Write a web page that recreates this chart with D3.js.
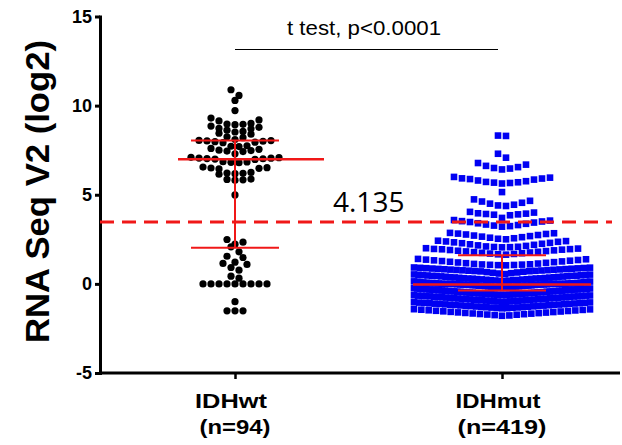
<!DOCTYPE html>
<html>
<head>
<meta charset="utf-8">
<script src="https://cdn.jsdelivr.net/npm/d3@7"></script>
<style>
  body { margin: 0; background: #fff; }
  svg  { display: block; }
</style>
</head>
<body>
<svg id="chart" width="622" height="445"></svg>
<script>
// DATA

const categories = ["IDHwt", "IDHmut"];
const nLabels    = ["(n=94)", "(n=419)"];
const yTicks     = [-5, 0, 5, 10, 15];

const idhwt = [
  10.89, 10.57, 10.29, 9.72,
  9.30, 9.20, 9.14, 9.00, 8.97, 8.95, 8.93,
  8.85, 8.78, 8.72, 8.70, 8.62, 8.55, 8.52, 8.45, 8.40,
  8.25, 8.20, 8.10, 8.05, 8.04, 8.02, 8.00, 7.98, 7.95, 7.92,
  7.75, 7.72, 7.70, 7.60, 7.55, 7.50, 7.48, 7.45, 7.42,
  7.30, 7.10, 7.08, 7.06, 7.05, 7.03, 7.02, 7.00, 6.98,
  6.85, 6.84, 6.82, 6.80,
  6.55, 6.52, 6.50, 6.48, 6.45,
  6.25, 6.22, 6.20, 6.18, 6.15,
  5.88, 5.86, 5.84, 5.82,
  4.99, 2.49, 2.34, 2.23, 2.08, 1.80, 1.55, 1.48, 1.22, 1.15, 1.09, 0.92, 0.77, 0.43, 0.32,
  0, 0, 0, 0, 0, 0, 0, 0, 0,
  -1.00, -1.51, -1.51, -1.51
];

const idhmut = [
  8.32, 8.30,
  7.30, 7.08,
  6.78, 6.69, 6.62, 6.55, 6.50, 6.47, 6.42,
  6.00, 5.96, 5.92, 5.91, 5.88, 5.85, 5.80, 5.76, 5.72, 5.70, 5.68, 5.66, 5.63,
  5.15,
  4.74, 4.66, 4.62, 4.55, 4.50, 4.44, 4.40, 4.37,
  4.04, 4.00, 3.96, 3.94, 3.92, 3.90, 3.88, 3.85, 3.70,
  3.58, 3.55, 3.52, 3.50, 3.47, 3.44, 3.40, 3.37, 3.33, 3.30, 3.27, 3.24, 3.21,
  2.86, 2.84, 2.82, 2.80, 2.77, 2.74, 2.71, 2.68, 2.65, 2.62, 2.59, 2.56, 2.53, 2.50,
  2.42, 2.40, 2.38, 2.36, 2.33, 2.30, 2.28, 2.25, 2.22, 2.19, 2.16, 2.13, 2.10, 2.08, 2.07, 2.06, 2.05,
  2.00, 1.98, 1.96, 1.95, 1.94, 1.92, 1.90, 1.88, 1.86, 1.84, 1.82, 1.80, 1.78, 1.76, 1.74, 1.72, 1.70, 1.68, 1.66, 1.64,
  1.40, 1.38, 1.36, 1.34, 1.32, 1.30, 1.28, 1.26, 1.24, 1.22, 1.20, 1.18, 1.16, 1.14, 1.12, 1.10, 1.09, 1.08, 1.07, 1.06, 1.05, 1.04,
  0.92, 0.91, 0.90, 0.89, 0.88, 0.87, 0.86, 0.85, 0.84, 0.83, 0.82, 0.81, 0.80, 0.79, 0.78, 0.77, 0.76, 0.75, 0.74, 0.73,
  0.72, 0.71, 0.70, 0.68, 0.66, 0.64, 0.62, 0.60, 0.58, 0.55,
  0.53, 0.52, 0.51, 0.50, 0.49, 0.48, 0.47, 0.46, 0.45, 0.45, 0.44, 0.43, 0.42, 0.41, 0.40, 0.39, 0.38, 0.37, 0.36, 0.35,
  0.34, 0.33, 0.32, 0.31, 0.30, 0.30, 0.29, 0.28, 0.27, 0.26, 0.25, 0.24, 0.23, 0.22, 0.21, 0.20, 0.19, 0.18, 0.17, 0.16,
  0.14, 0.13, 0.12, 0.11, 0.10, 0.09, 0.08, 0.07, 0.06, 0.05, 0.05, 0.04, 0.04, 0.03, 0.03, 0.02, 0.02, 0.01, 0.01,
  0, 0, 0, 0, 0, 0, 0,
  -0.01, -0.01, -0.02, -0.02, -0.03, -0.03, -0.04, -0.04, -0.05, -0.05, -0.06, -0.06, -0.07, -0.08, -0.08, -0.09,
  -0.10, -0.10, -0.11, -0.12, -0.12, -0.13, -0.14, -0.15, -0.16, -0.17, -0.18, -0.19, -0.20, -0.21, -0.22, -0.23,
  -0.25, -0.26, -0.26, -0.27, -0.28, -0.28, -0.29, -0.30, -0.30, -0.31, -0.32, -0.32, -0.33, -0.34, -0.34, -0.35,
  -0.36, -0.36, -0.37, -0.38, -0.38, -0.39, -0.40, -0.40, -0.41, -0.42, -0.42, -0.43, -0.44, -0.44, -0.45, -0.46,
  -0.46, -0.47, -0.48, -0.48, -0.49, -0.50, -0.50, -0.51, -0.52, -0.52, -0.53, -0.54, -0.54, -0.55, -0.56, -0.56,
  -0.57, -0.58, -0.58, -0.59, -0.60, -0.60, -0.61, -0.62, -0.62, -0.62,
  -0.64, -0.65, -0.66, -0.66, -0.67, -0.68, -0.69, -0.70, -0.70, -0.71, -0.72, -0.73, -0.74, -0.75, -0.75,
  -0.76, -0.77, -0.78, -0.79, -0.80, -0.80, -0.81, -0.82, -0.83, -0.84, -0.85, -0.85, -0.86, -0.87, -0.88,
  -0.89, -0.90, -0.90, -0.91, -0.92, -0.93, -0.94, -0.95, -0.95, -0.96, -0.97, -0.98, -0.99, -1.00, -1.01,
  -1.03, -1.04, -1.05, -1.06, -1.07, -1.08, -1.09, -1.10, -1.11, -1.12, -1.13, -1.14, -1.15, -1.16, -1.17, -1.18,
  -1.19, -1.20, -1.21, -1.22, -1.23, -1.24, -1.25, -1.26, -1.27, -1.28, -1.29, -1.30, -1.31, -1.32, -1.33, -1.34,
  -1.35, -1.36, -1.37,
  -1.42, -1.43, -1.45, -1.46, -1.48, -1.49, -1.51, -1.52, -1.54, -1.55, -1.57, -1.58, -1.60, -1.61, -1.63, -1.64,
  -1.66, -1.67, -1.69, -1.70, -1.72, -1.73, -1.75, -1.77, -1.79
];

// median + interquartile range
const medians = [6.99, -0.03];
const q1s     = [2.02, -0.37];
const q3s     = [8.04, 1.61];

const cutoff      = 3.47;
const cutoffLabel = "4.135";
const testLabel   = "t test, p<0.0001";

// SETUP

const svg  = d3.select("#chart");
const RED  = "#f01818";
const FONT = "'Liberation Sans', Arial, sans-serif";

const y = d3.scaleLinear().domain([-5, 15]).range([373, 16.5]);
const x = d3.scalePoint().domain(categories).range([235, 502]);

// Prism-like scatter: values grouped in rows, spread sideways,
// lowest values in the middle of a row, squeezed when too wide
function swarm(values, binSize, step, maxWidth) {
    const sorted = values.slice().sort((a, b) => b - a);
    const rows = [];
    let row = null;
    sorted.forEach(v => {
        if (!row || row.top - v >= binSize - 1e-9) { row = { top: v, vals: [] }; rows.push(row); }
        row.vals.push(v);
    });
    const out = [];
    rows.forEach(r => {
        const n  = r.vals.length;
        const dx = n > 1 ? Math.min(step, maxWidth / (n - 1)) : 0;
        const slots = d3.range(n).map(i => i - (n - 1) / 2)
            .sort((a, b) => Math.abs(a) - Math.abs(b) || b - a);
        r.vals.slice().sort((a, b) => a - b)
            .forEach((v, i) => out.push({ v, dx: slots[i] * dx }));
    });
    return out;
}

// Axes
const gY = svg.append("g")
    .attr("transform", "translate(100,0)")
    .call(d3.axisLeft(y).tickValues(yTicks).tickFormat(d => String(d))
        .tickSize(5).tickSizeOuter(0).tickPadding(3));
gY.select(".domain").attr("stroke-width", 3).attr("stroke-linecap", "square");
gY.selectAll(".tick line").attr("stroke-width", 3);
gY.selectAll(".tick text")
    .attr("font-family", FONT).attr("font-size", 18).attr("font-weight", "bold").attr("fill", "#000");

svg.append("line")
    .attr("x1", 99).attr("x2", 620).attr("y1", y(-5)).attr("y2", y(-5))
    .attr("stroke", "#000").attr("stroke-width", 3);

const gX = svg.append("g")
    .attr("transform", `translate(0,${y(-5)})`)
    .call(d3.axisBottom(x).tickSize(6).tickFormat(""));
gX.select(".domain").remove();
gX.selectAll(".tick line").attr("stroke-width", 2.5);

const catWidths = [[72, 71], [85, 89]];
const catShift  = [[-4, 0], [-4, 0]];
categories.forEach((c, i) => {
    [c, nLabels[i]].forEach((t, j) => {
        svg.append("text")
            .attr("x", x(c) + catShift[i][j]).attr("y", j ? 434 : 408)
            .attr("text-anchor", "middle")
            .attr("font-family", FONT).attr("font-size", 19.5).attr("font-weight", "bold")
            .attr("textLength", catWidths[i][j]).attr("lengthAdjust", "spacingAndGlyphs")
            .text(t);
    });
});

svg.append("text")
    .attr("transform", "translate(49,191.5) rotate(-90)")
    .attr("text-anchor", "middle")
    .attr("font-family", FONT).attr("font-size", 34).attr("font-weight", "bold")
    .attr("textLength", 303).attr("lengthAdjust", "spacingAndGlyphs")
    .text("RNA Seq V2 (log2)");

// Points
const ptsWt  = swarm(idhwt, 0.39, 8, 176);
const ptsMut = swarm(idhmut, 0.38, 8, 176);

svg.append("g").selectAll("circle").data(ptsWt).join("circle")
    .attr("cx", d => x("IDHwt") + d.dx)
    .attr("cy", d => y(d.v))
    .attr("r", 3.6)
    .attr("fill", "#000");

const sq = 6.6;
svg.append("g").selectAll("rect").data(ptsMut).join("rect")
    .attr("x", d => x("IDHmut") + d.dx - sq / 2)
    .attr("y", d => y(d.v) - sq / 2)
    .attr("width", sq).attr("height", sq)
    .attr("fill", "#0000f2");

// Median / IQR bars
const medSpan = [[-57, 89], [-89, 89]];
const capHalf = 44;
const gBars = svg.append("g").attr("stroke", RED).attr("fill", "none");
categories.forEach((c, i) => {
    const cx = x(c);
    gBars.append("line").attr("x1", cx).attr("x2", cx)
        .attr("y1", y(q1s[i])).attr("y2", y(q3s[i])).attr("stroke-width", 2);
    [q1s[i], q3s[i]].forEach(q => {
        gBars.append("line").attr("x1", cx - capHalf).attr("x2", cx + capHalf)
            .attr("y1", y(q)).attr("y2", y(q)).attr("stroke-width", 2);
    });
    gBars.append("line").attr("x1", cx + medSpan[i][0]).attr("x2", cx + medSpan[i][1])
        .attr("y1", y(medians[i])).attr("y2", y(medians[i])).attr("stroke-width", 2.5);
});

// Cut-off line
svg.append("line")
    .attr("x1", 100).attr("x2", 612).attr("y1", y(cutoff)).attr("y2", y(cutoff))
    .attr("stroke", RED).attr("stroke-width", 3).attr("stroke-dasharray", "14,8");

svg.append("text")
    .attr("x", 333).attr("y", 211.7)
    .attr("font-family", "'Open Sans', sans-serif").attr("font-size", 28)
    .attr("fill", "#000")
    .text(cutoffLabel);

// Test annotation
svg.append("text")
    .attr("x", 364).attr("y", 35)
    .attr("text-anchor", "middle")
    .attr("font-family", FONT).attr("font-size", 20)
    .attr("textLength", 154).attr("lengthAdjust", "spacingAndGlyphs")
    .text(testLabel);

svg.append("line")
    .attr("x1", x("IDHwt")).attr("x2", 498).attr("y1", 49.5).attr("y2", 49.5)
    .attr("stroke", "#000").attr("stroke-width", 1.2);
</script>
</body>
</html>
